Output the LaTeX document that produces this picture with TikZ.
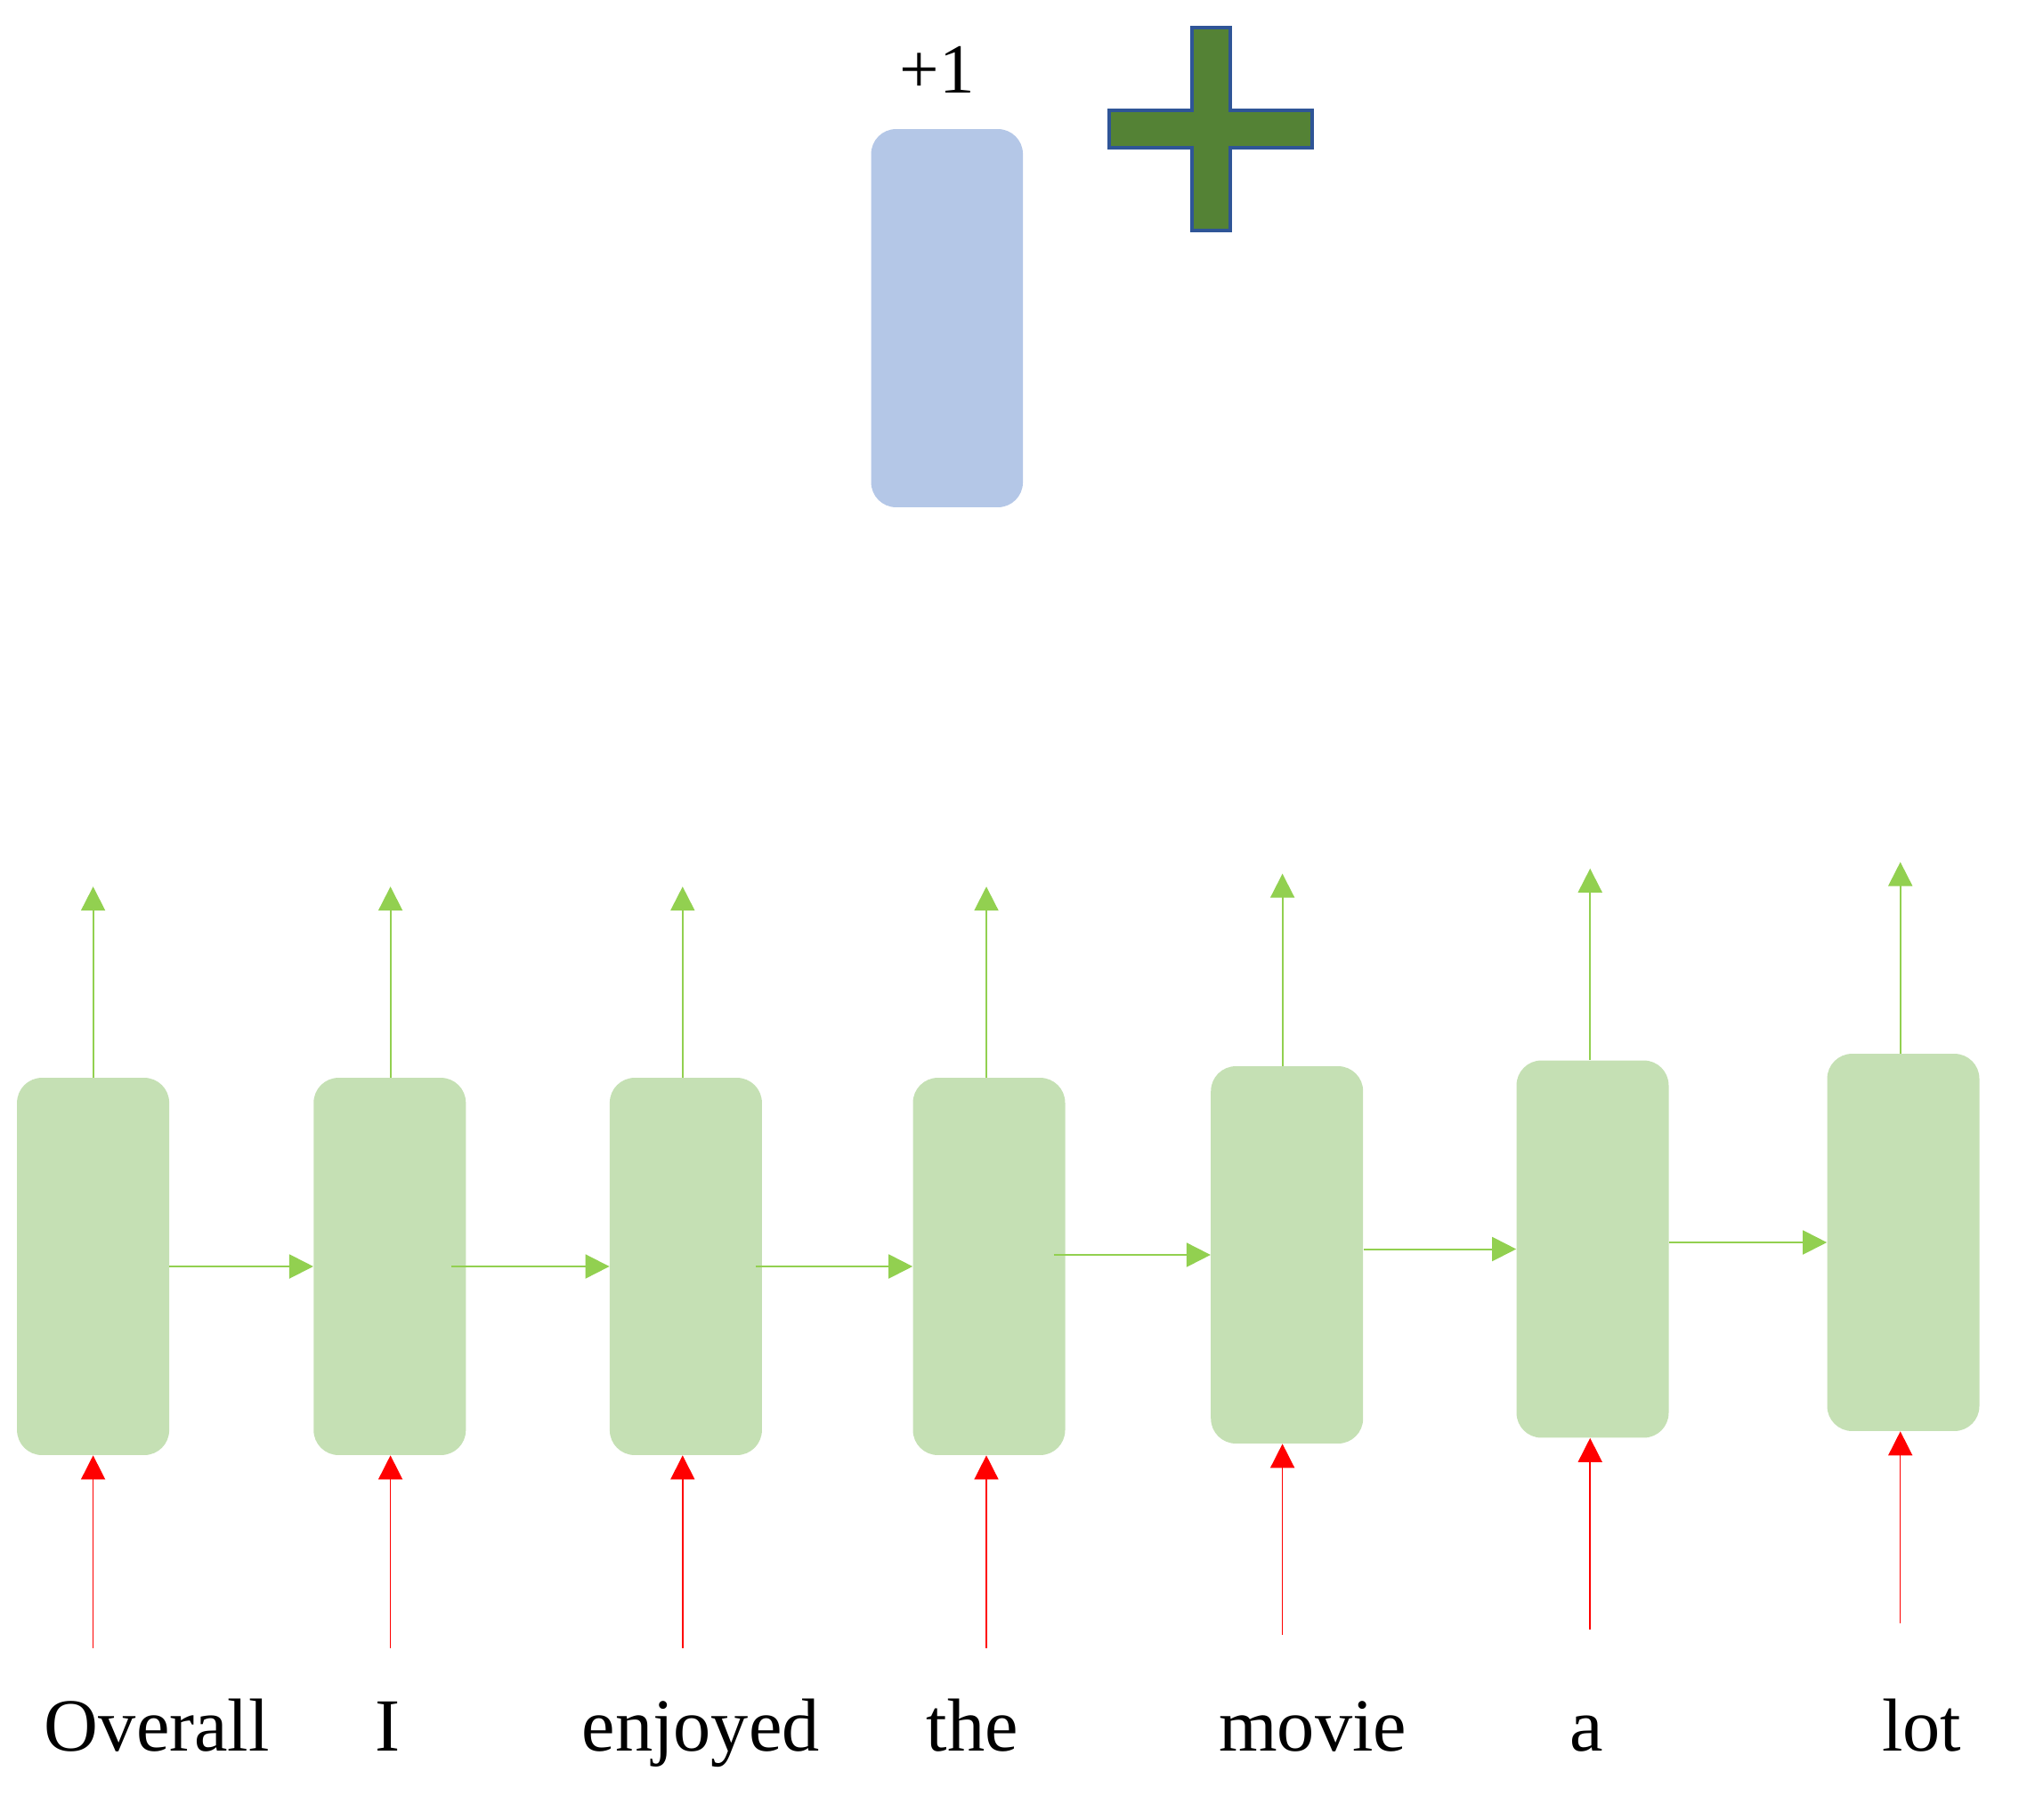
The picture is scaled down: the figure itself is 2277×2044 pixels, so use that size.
\documentclass[tikz,border=0pt]{standalone}
\usepackage{fontspec}
\setmainfont{Liberation Serif}
\usetikzlibrary{arrows.meta,calc}
\definecolor{boxgreen}{HTML}{C5E0B4}
\definecolor{arrgreen}{HTML}{92D050}
\definecolor{boxblue}{HTML}{B4C7E7}
\definecolor{crossgreen}{HTML}{548235}
\definecolor{crossblue}{HTML}{2F5597}
\begin{document}
\begin{tikzpicture}[x=0.02cm,y=-0.02cm,
  cell/.style={fill=boxgreen, draw=none, rounded corners=0.56cm, minimum width=3.42cm, minimum height=8.48cm, inner sep=0pt},
  garrow/.style={draw=arrgreen, line width=0.04cm, -{Triangle[length=0.54cm,width=0.54cm]}},
  rarrow/.style={draw=red, line width=0.03cm, -{Triangle[length=0.54cm,width=0.54cm]}},
  word/.style={anchor=base, inner sep=0pt, font=\fontsize{48}{56}\selectfont}]
\useasboundingbox (0,0) rectangle (2277,2044);

% top: result box, label and plus sign
\node[fill=boxblue, draw=none, rounded corners=0.56cm, minimum width=3.41cm, minimum height=8.5cm, inner sep=0pt] (res) at (1063.8,357.5) {};
\node[anchor=base, inner sep=0pt, font=\fontsize{45}{52}\selectfont] (lab) at (1053,104.6) {+1};
\draw[fill=crossgreen, draw=crossblue, line width=0.09cm]
  (1339,31) -- (1382,31) -- (1382,124) -- (1474,124) -- (1474,166) -- (1382,166)
  -- (1382,259) -- (1339,259) -- (1339,166) -- (1246,166) -- (1246,124) -- (1339,124) -- cycle;

% cells
\node[cell] (b1) at (104.6,1423) {};
\node[cell] (b2) at (437.8,1423) {};
\node[cell] (b3) at (770.4,1423) {};
\node[cell] (b4) at (1111,1423) {};
\node[cell] (b5) at (1445.7,1410) {};
\node[cell] (b6) at (1789,1403.5) {};
\node[cell] (b7) at (2138,1396) {};

% output arrow ends
\coordinate (t1) at (104.6,996.2);
\coordinate (t2) at (438.6,996.2);
\coordinate (t3) at (766.8,996.2);
\coordinate (t4) at (1108,996.2);
\coordinate (t5) at (1440.6,981.7);
\coordinate (t6) at (1786.2,975.9);
\coordinate (t7) at (2134.7,968.6);

% input arrow starts
\coordinate (s1) at (104.6,1851.6);
\coordinate (s2) at (438.6,1851.6);
\coordinate (s3) at (766.8,1851.6);
\coordinate (s4) at (1108,1851.6);
\coordinate (s5) at (1440.6,1837);
\coordinate (s6) at (1786.2,1831.2);
\coordinate (s7) at (2134.7,1824);

\foreach \i in {1,...,7}{
  \draw[garrow] (b\i.north -| t\i) -- (t\i);
  \draw[rarrow] (s\i) -- (b\i.south -| s\i);
}

% recurrent arrows
\draw[garrow] (b1.east) -- (b2.west);
\draw[garrow] ($(b2.east)+(-17,0)$) -- (b3.west);
\draw[garrow] ($(b3.east)+(-7,0)$) -- (b4.west);
\draw[garrow] ($(b4.east |- b5.west)+(-13,0)$) -- (b5.west);
\draw[garrow] (b5.east |- b6.west) -- (b6.west);
\draw[garrow] (b6.east |- b7.west) -- (b7.west);

% words
\node[word] (w1) at (176.4,1967.7) {Overall};
\node[word] (w2) at (435.7,1967.7) {I};
\node[word] (w3) at (787.1,1967.7) {enjoyed};
\node[word] (w4) at (1092.1,1967.7) {the};
\node[word] (w5) at (1474.7,1967.7) {movie};
\node[word] (w6) at (1782.6,1967.7) {a};
\node[word] (w7) at (2158.7,1967.7) {lot};
\end{tikzpicture}
\end{document}
